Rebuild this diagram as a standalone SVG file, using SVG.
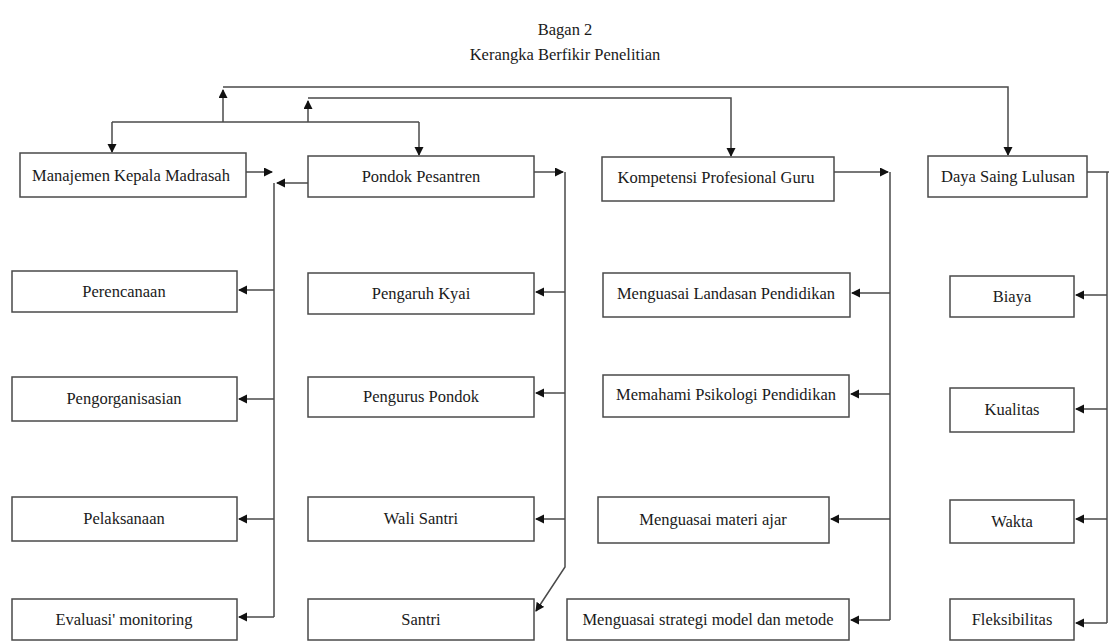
<svg xmlns="http://www.w3.org/2000/svg" width="1109" height="641" viewBox="0 0 1109 641">
<style>
.box{fill:#fff;stroke:#4a4a4a;stroke-width:1.5}
.t{font-family:"Liberation Serif","Times New Roman",serif;font-size:16.5px;fill:#1a1a1a;text-anchor:middle;dominant-baseline:central}
.c{fill:none;stroke:#4a4a4a;stroke-width:1.5}
</style>
<defs>
<marker id="ah" markerUnits="userSpaceOnUse" markerWidth="10" markerHeight="10" refX="8" refY="4.5" orient="auto">
<path d="M0,0 L9,4.5 L0,9 z" fill="#111"/>
</marker>
</defs>
<rect width="1109" height="641" fill="#fff"/>
<g id="title">
<text class="t" x="565" y="29">Bagan 2</text>
<text class="t" x="565" y="54">Kerangka Berfikir Penelitian</text>
</g>
<g id="connectors">
<path class="c" d="M223,122 V90" marker-end="url(#ah)"/>
<path class="c" d="M223,87 H1008 V155" marker-end="url(#ah)"/>
<path class="c" d="M308,122 V101" marker-end="url(#ah)"/>
<path class="c" d="M308,98 H731 V156" marker-end="url(#ah)"/>
<path class="c" d="M112,122 H419"/>
<path class="c" d="M112,122 V152" marker-end="url(#ah)"/>
<path class="c" d="M419,122 V155" marker-end="url(#ah)"/>
<path class="c" d="M246,172 H272" marker-end="url(#ah)"/>
<path class="c" d="M308,183 H277" marker-end="url(#ah)"/>
<path class="c" d="M534,172 H563" marker-end="url(#ah)"/>
<path class="c" d="M834,172 H888" marker-end="url(#ah)"/>
<path class="c" d="M1087,172 H1109"/>
<path class="c" d="M274,183 V617"/>
<path class="c" d="M274,290 H239" marker-end="url(#ah)"/>
<path class="c" d="M274,399 H239" marker-end="url(#ah)"/>
<path class="c" d="M274,519 H239" marker-end="url(#ah)"/>
<path class="c" d="M274,617 H239" marker-end="url(#ah)"/>
<path class="c" d="M565,172 V567 L536,611" marker-end="url(#ah)"/>
<path class="c" d="M565,292 H536" marker-end="url(#ah)"/>
<path class="c" d="M565,393 H536" marker-end="url(#ah)"/>
<path class="c" d="M565,519 H536" marker-end="url(#ah)"/>
<path class="c" d="M890,172 V620"/>
<path class="c" d="M890,293 H852" marker-end="url(#ah)"/>
<path class="c" d="M890,394 H851" marker-end="url(#ah)"/>
<path class="c" d="M890,519 H831" marker-end="url(#ah)"/>
<path class="c" d="M890,620 H851" marker-end="url(#ah)"/>
<path class="c" d="M1107,172 V623"/>
<path class="c" d="M1107,295 H1076" marker-end="url(#ah)"/>
<path class="c" d="M1107,409 H1076" marker-end="url(#ah)"/>
<path class="c" d="M1107,519 H1076" marker-end="url(#ah)"/>
<path class="c" d="M1107,623 H1076" marker-end="url(#ah)"/>
</g>
<g id="manajemen"><rect class="box" x="20" y="153" width="226" height="44"/><text class="t" x="131" y="175">Manajemen Kepala Madrasah</text></g>
<g id="perencanaan"><rect class="box" x="12" y="271" width="225" height="41"/><text class="t" x="124" y="291">Perencanaan</text></g>
<g id="pengorganisasian"><rect class="box" x="12" y="377" width="225" height="44"/><text class="t" x="124" y="398">Pengorganisasian</text></g>
<g id="pelaksanaan"><rect class="box" x="12" y="497" width="225" height="44"/><text class="t" x="124" y="518">Pelaksanaan</text></g>
<g id="evaluasi"><rect class="box" x="12" y="599" width="225" height="41"/><text class="t" x="124" y="619">Evaluasi' monitoring</text></g>
<g id="pondok"><rect class="box" x="308" y="156" width="226" height="41"/><text class="t" x="421" y="176">Pondok Pesantren</text></g>
<g id="pengaruh"><rect class="box" x="308" y="273" width="226" height="41"/><text class="t" x="421" y="293">Pengaruh Kyai</text></g>
<g id="pengurus"><rect class="box" x="308" y="377" width="226" height="40"/><text class="t" x="421" y="396">Pengurus Pondok</text></g>
<g id="wali"><rect class="box" x="308" y="497" width="226" height="44"/><text class="t" x="421" y="518">Wali Santri</text></g>
<g id="santri"><rect class="box" x="308" y="599" width="226" height="41"/><text class="t" x="421" y="619">Santri</text></g>
<g id="kompetensi"><rect class="box" x="602" y="157" width="232" height="44"/><text class="t" x="716" y="177">Kompetensi Profesional Guru</text></g>
<g id="landasan"><rect class="box" x="603" y="273" width="247" height="44"/><text class="t" x="726" y="293">Menguasai Landasan Pendidikan</text></g>
<g id="psikologi"><rect class="box" x="603" y="375" width="246" height="42"/><text class="t" x="726" y="394">Memahami Psikologi Pendidikan</text></g>
<g id="materi"><rect class="box" x="598" y="497" width="231" height="46"/><text class="t" x="713" y="519">Menguasai materi ajar</text></g>
<g id="strategi"><rect class="box" x="567" y="599" width="282" height="41"/><text class="t" x="708" y="619">Menguasai strategi model dan metode</text></g>
<g id="dayasaing"><rect class="box" x="928" y="156" width="159" height="41"/><text class="t" x="1008" y="176">Daya Saing Lulusan</text></g>
<g id="biaya"><rect class="box" x="950" y="276" width="124" height="41"/><text class="t" x="1012" y="296">Biaya</text></g>
<g id="kualitas"><rect class="box" x="950" y="388" width="124" height="44"/><text class="t" x="1012" y="409">Kualitas</text></g>
<g id="wakta"><rect class="box" x="950" y="500" width="124" height="43"/><text class="t" x="1012" y="521">Wakta</text></g>
<g id="fleksibilitas"><rect class="box" x="950" y="599" width="124" height="41"/><text class="t" x="1012" y="619">Fleksibilitas</text></g>
</svg>
